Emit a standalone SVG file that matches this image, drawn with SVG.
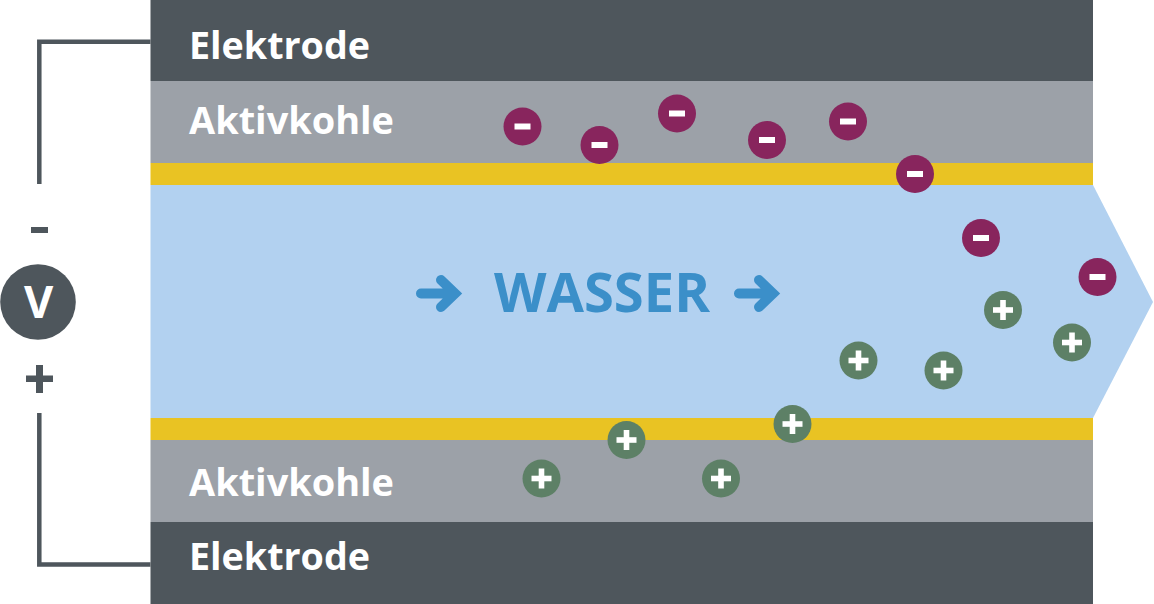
<svg xmlns="http://www.w3.org/2000/svg" width="1154" height="604" viewBox="0 0 1154 604">
<style>
.dark{fill:#4e565c}.gray{fill:#9ca1a8}.yellow{fill:#e9c323}.water{fill:#b2d1f0}
.lab{font-family:"Open Sans","Liberation Sans",sans-serif;font-weight:700;font-size:38px;fill:#fff}
.wire{fill:none;stroke:#4e565c;stroke-width:4.5}
.flow{fill:none;stroke:#3b8fc9;stroke-width:10;stroke-linecap:round;stroke-linejoin:miter}
.neg{fill:#88255d}.pos{fill:#5d8066}.g{fill:#fff}
</style>
<defs>
<g id="minus"><circle r="19" class="neg"/><rect x="-8" y="-3" width="16" height="6" class="g"/></g>
<g id="plus"><circle r="19" class="pos"/><rect x="-10" y="-2.800" width="20" height="5.600" class="g"/><rect x="-2.800" y="-10" width="5.600" height="20" class="g"/></g>
</defs>
<g id="water"><polygon class="water" points="150.500,185 1093,185 1153,302 1093,418 150.500,418"/></g>
<g id="electrode-top"><rect class="dark" x="150.500" y="0" width="942.500" height="81"/><text class="lab" x="189" y="58.500" textLength="181" lengthAdjust="spacingAndGlyphs">Elektrode</text></g>
<g id="carbon-top"><rect class="gray" x="150.500" y="81" width="942.500" height="82"/><text class="lab" x="189" y="133.500" textLength="205" lengthAdjust="spacingAndGlyphs">Aktivkohle</text></g>
<g id="membrane-top"><rect class="yellow" x="150.500" y="163" width="942.500" height="22"/></g>
<g id="membrane-bottom"><rect class="yellow" x="150.500" y="418" width="942.500" height="22"/></g>
<g id="carbon-bottom"><rect class="gray" x="150.500" y="440" width="942.500" height="82"/><text class="lab" x="189" y="495.500" textLength="205" lengthAdjust="spacingAndGlyphs">Aktivkohle</text></g>
<g id="electrode-bottom"><rect class="dark" x="150.500" y="522" width="942.500" height="82"/><text class="lab" x="189" y="569.500" textLength="181" lengthAdjust="spacingAndGlyphs">Elektrode</text></g>
<g id="connectors">
<path class="wire" d="M150.500 41.800H39.300V184"/>
<path class="wire" d="M150.500 564.500H39.300V413"/>
</g>
<g id="voltmeter"><circle class="dark" cx="38" cy="302" r="37.800"/><text x="38.500" y="318" text-anchor="middle" font-family="'Open Sans','Liberation Sans',sans-serif" font-weight="700" font-size="45" fill="#fff">V</text></g>
<g id="minus-pole"><rect class="dark" x="31" y="227" width="17" height="6"/></g>
<g id="plus-pole"><rect class="dark" x="26" y="375.500" width="27" height="6.500"/><rect class="dark" x="36" y="365" width="7" height="28"/></g>
<g id="wasser">
<path class="flow" d="M421 293.500H455M441 280L455 293.500L441 307"/>
<text x="494" y="312" font-family="'Open Sans','Liberation Sans',sans-serif" font-weight="700" font-size="53" fill="#3b8fc9" textLength="216" lengthAdjust="spacingAndGlyphs">WASSER</text>
<path class="flow" d="M739 293.500H773M759 280L773 293.500L759 307"/>
</g>
<g id="ions">
<use href="#minus" x="522.500" y="126.500"/><use href="#minus" x="599.500" y="145"/><use href="#minus" x="677" y="113.500"/><use href="#minus" x="767" y="140"/><use href="#minus" x="848" y="121.500"/><use href="#minus" x="915" y="174"/><use href="#minus" x="981" y="238"/><use href="#minus" x="1097.500" y="277"/>
<use href="#plus" x="1003" y="310"/><use href="#plus" x="1072" y="342.500"/><use href="#plus" x="858.500" y="360.500"/><use href="#plus" x="943.500" y="370.500"/><use href="#plus" x="792.500" y="424"/><use href="#plus" x="626.500" y="440"/><use href="#plus" x="541.500" y="478.500"/><use href="#plus" x="721" y="478.500"/>
</g>
</svg>
